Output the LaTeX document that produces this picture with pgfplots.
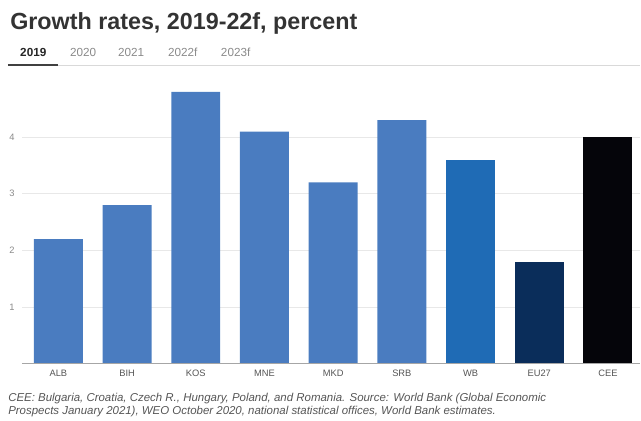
\documentclass[border=0pt]{standalone}
\usepackage{pgfplots}
\pgfplotsset{compat=1.18}
\usepackage{fontspec}
\setmainfont{Liberation Sans}
\definecolor{barblue}{HTML}{4A7CC0}
\definecolor{wbblue}{HTML}{1F6BB5}
\definecolor{eunavy}{HTML}{0A2D5A}
\definecolor{ceeblack}{HTML}{05050A}
\definecolor{gridc}{HTML}{E8E8E8}
\definecolor{tickc}{HTML}{8A8A8A}
\definecolor{labc}{HTML}{555555}
\begin{document}
\begin{tikzpicture}
\begin{scope}[x=0.75pt,y=0.75pt]
\path[use as bounding box] (0,0) rectangle (641,421);
\node[anchor=base west, inner sep=0pt, font=\fontsize{17.5}{19}\selectfont\bfseries, text=black!80] at (10,391) {Growth rates, 2019-22f, percent};
\node[anchor=base west, inner sep=0pt, font=\fontsize{8.8}{9}\selectfont\bfseries, text=black!85] at (20,364) {2019};
\node[anchor=base west, inner sep=0pt, font=\fontsize{8.8}{9}\selectfont, text=tickc] at (70,364) {2020};
\node[anchor=base west, inner sep=0pt, font=\fontsize{8.8}{9}\selectfont, text=tickc] at (118,364) {2021};
\node[anchor=base west, inner sep=0pt, font=\fontsize{8.8}{9}\selectfont, text=tickc] at (168,364) {2022f};
\node[anchor=base west, inner sep=0pt, font=\fontsize{8.8}{9}\selectfont, text=tickc] at (221,364) {2023f};
\draw[black!15, line width=0.75pt] (8,355) -- (641,355);
\draw[black!75, line width=2pt] (8,356) -- (58,356);
\node[anchor=base west, inner sep=0pt, font=\fontsize{8.6}{9}\selectfont\itshape, text=labc] at (8,19) {CEE: Bulgaria, Croatia, Czech R., Hungary, Poland, and Romania. Source: World Bank (Global Economic};
\node[anchor=base west, inner sep=0pt, font=\fontsize{8.6}{9}\selectfont\itshape, text=labc] at (8,6) {Prospects January 2021), WEO October 2020, national statistical offices, World Bank estimates.};
\end{scope}
\begin{axis}[
  at={(16.5pt,42.75pt)}, anchor=south west,
  scale only axis, width=464.25pt, height=216.75pt,
  xmin=-0.53, xmax=8.47, ymin=0, ymax=5.1,
  axis line style={draw=none},
  xtick={0,...,8},
  xticklabels={ALB,BIH,KOS,MNE,MKD,SRB,WB,EU27,CEE},
  ytick={1,2,3,4},
  ymajorgrids, grid style={gridc, line width=0.6pt},
  major tick length=0pt,
  tick label style={font=\fontsize{7}{8}\selectfont},
  xticklabel style={text=labc, yshift=-1pt},
  yticklabel style={text=tickc, xshift=-2pt},
  /pgf/number format/assume math mode=true,
  ybar, bar width=36.75pt,
  clip=false,
]
\addplot[fill=barblue, draw=none, bar shift=0pt] coordinates {(0,2.2) (1,2.8) (2,4.8) (3,4.1) (4,3.2) (5,4.3)};
\addplot[fill=wbblue, draw=none, bar shift=0pt] coordinates {(6,3.6)};
\addplot[fill=eunavy, draw=none, bar shift=0pt] coordinates {(7,1.8)};
\addplot[fill=ceeblack, draw=none, bar shift=0pt] coordinates {(8,4.0)};
\draw[black!35, line width=1.2pt] (axis cs:-0.53,0) -- (axis cs:8.47,0);
\end{axis}
\end{tikzpicture}
\end{document}
